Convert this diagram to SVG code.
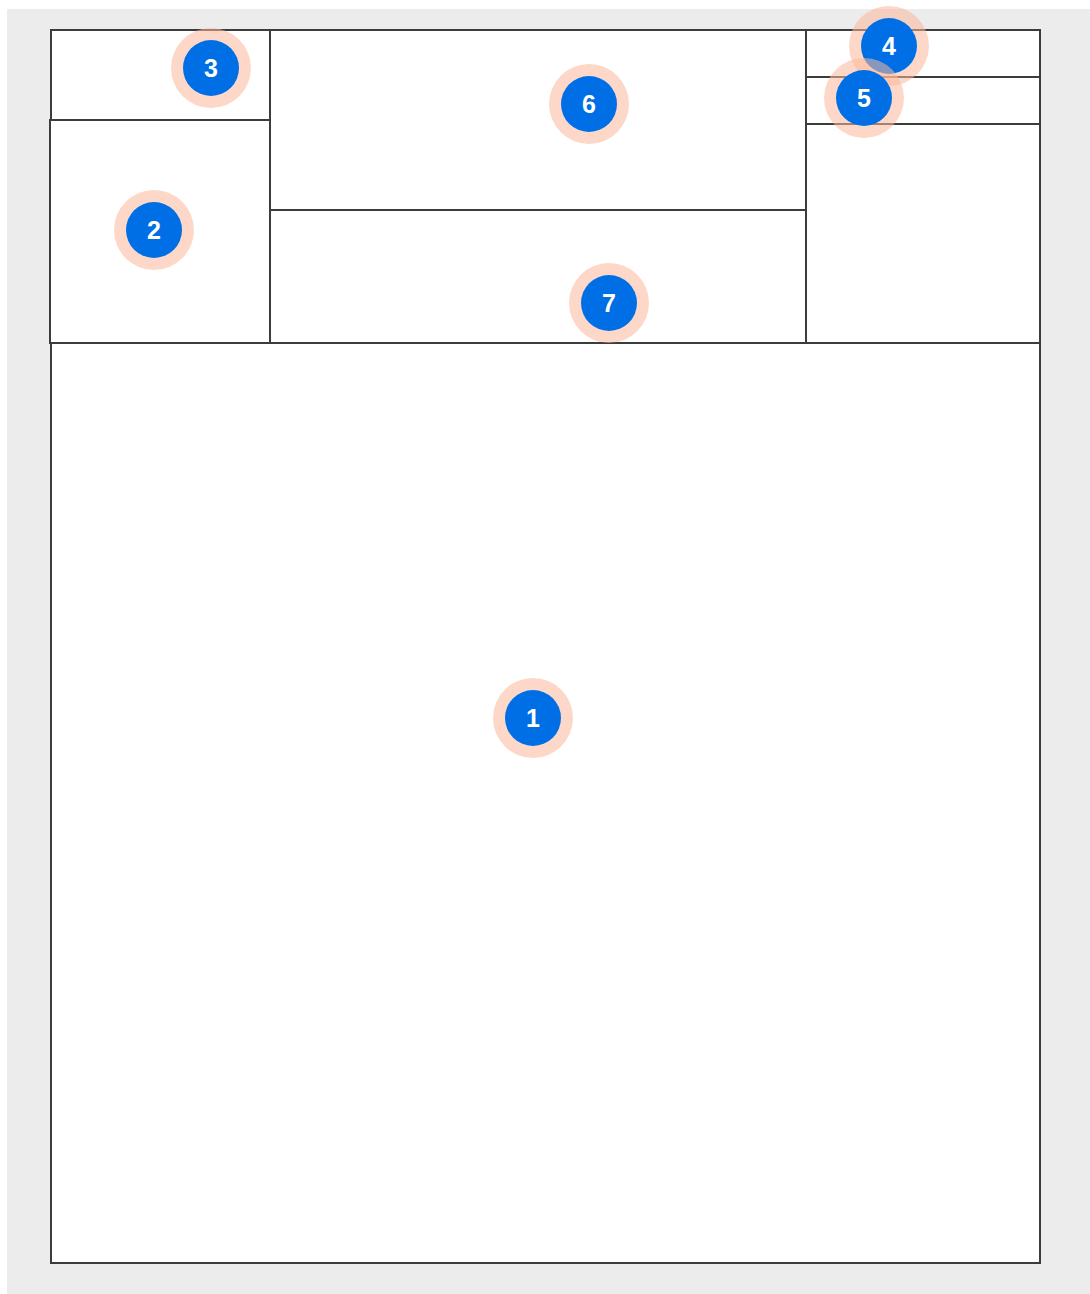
<svg xmlns="http://www.w3.org/2000/svg" width="1090" height="1294" viewBox="0 0 1090 1294">
<style>
.box{fill:#fff;stroke:#3c3c3c;stroke-width:2}
.halo{fill:#fbb89a;fill-opacity:0.55}
.dot{fill:#006fe6}
.num{fill:#fff;font-family:"Liberation Sans",Arial,sans-serif;font-weight:bold;font-size:25px;text-anchor:middle}
</style>
<rect x="0" y="0" width="1090" height="1294" fill="#fff"/>
<rect x="7" y="9" width="1083" height="1285" fill="#ececec"/>
<g id="connectors"/>
<g id="node-1"><rect class="box" x="51" y="343" width="989" height="920"/></g>
<g id="node-3"><rect class="box" x="51" y="30" width="219" height="90"/></g>
<g id="node-2"><rect class="box" x="50" y="120" width="220" height="223"/></g>
<g id="node-6"><rect class="box" x="270" y="30" width="536" height="180"/></g>
<g id="node-7"><rect class="box" x="270" y="210" width="536" height="133"/></g>
<g id="node-4"><rect class="box" x="806" y="30" width="234" height="47"/></g>
<g id="node-5"><rect class="box" x="806" y="77" width="234" height="47"/></g>
<g id="node-8"><rect class="box" x="806" y="124" width="234" height="219"/></g>
<g id="badge-3"><circle class="halo" cx="211" cy="68" r="40"/><circle class="dot" cx="211" cy="68" r="28"/><text class="num" x="211" y="77">3</text></g>
<g id="badge-2"><circle class="halo" cx="154" cy="230" r="40"/><circle class="dot" cx="154" cy="230" r="28"/><text class="num" x="154" y="239">2</text></g>
<g id="badge-6"><circle class="halo" cx="589" cy="104" r="40"/><circle class="dot" cx="589" cy="104" r="28"/><text class="num" x="589" y="113">6</text></g>
<g id="badge-7"><circle class="halo" cx="609" cy="303" r="40"/><circle class="dot" cx="609" cy="303" r="28"/><text class="num" x="609" y="312">7</text></g>
<g id="badge-4"><circle class="halo" cx="889" cy="46" r="40"/><circle class="dot" cx="889" cy="46" r="28"/><text class="num" x="889" y="55">4</text></g>
<g id="badge-5"><circle class="halo" cx="864" cy="98" r="40"/><circle class="dot" cx="864" cy="98" r="28"/><text class="num" x="864" y="107">5</text></g>
<g id="badge-1"><circle class="halo" cx="533" cy="718" r="40"/><circle class="dot" cx="533" cy="718" r="28"/><text class="num" x="533" y="727">1</text></g>
</svg>
